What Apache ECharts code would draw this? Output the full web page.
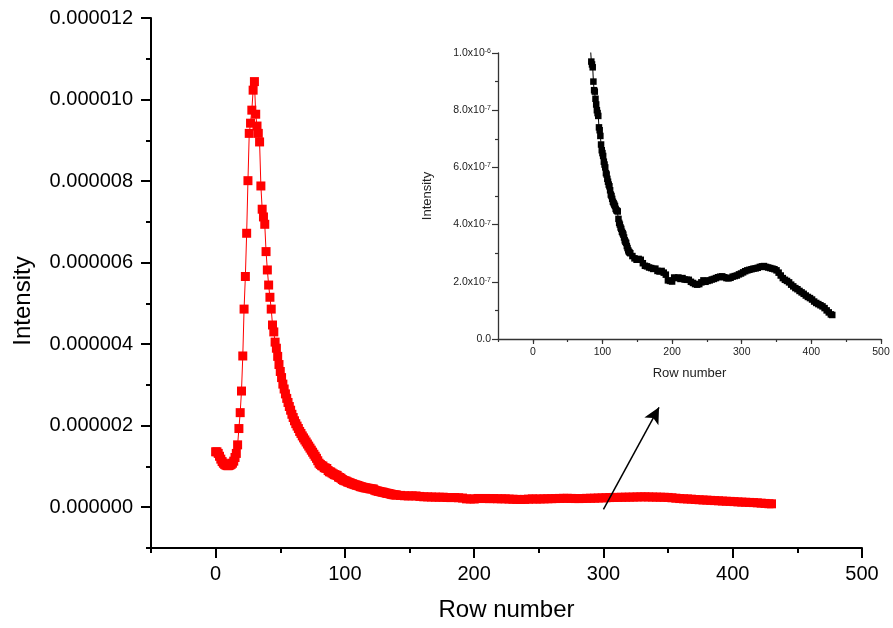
<!DOCTYPE html>
<html>
<head>
<meta charset="utf-8">
<script src="https://cdn.jsdelivr.net/npm/echarts@6/dist/echarts.min.js"></script>
<style>
html,body{margin:0;padding:0;background:#fff;}
#chart{width:893px;height:628px;}
</style>
</head>
<body>
<div id="chart"></div>
<script>
// ---- data (intensity in units of 1e-6) ----
const rowsDense = [
  0,1,2,3,4,5,6,7,8,9,
  10,11,12,13,14,15,16,17,18,19,
  20,21,22,23,24,25,26,27,28,29,
  30,31,32,33,34,35,36,37,38,39,
  40,41,42,43,44,45,46,47,48,49,
  50,51,52,53,54,55,56,57,58,59,
  60,61,62,63,64,65,66,67,68,69,
  70,71,72,73,74,75,76,77,78,79,
  80,81,82,83,84,85,86,87,88,89,
  90,91,92,93,94,95,96,97,98,99,
  100,101,102,103,104,105,106,107,108,109,
  110,111,112,113,114,115,116,117,118,119,
  120,121,122,123,124,125,126,127,128,129,
  130,131,132,133,134,135,136,137,138,139,
  140
];
const intensityDense = [
  1.36,1.36,1.32,1.25,1.18,1.12,1.08,1.05,1.03,1.02,
  1.02,1.03,1.05,1.08,1.13,1.22,1.32,1.53,1.93,2.32,
  2.85,3.71,4.86,5.66,6.72,8.01,9.17,9.42,9.74,10.23,
  10.44,9.64,9.35,9.17,8.96,7.88,7.31,7.12,6.94,6.27,
  5.82,5.45,5.15,4.86,4.47,4.30,4.05,3.90,3.70,3.50,
  3.33,3.18,3.02,2.90,2.78,2.67,2.57,2.47,2.38,2.28,
  2.20,2.12,2.05,1.99,1.93,1.86,1.81,1.75,1.70,1.65,
  1.60,1.55,1.50,1.45,1.40,1.35,1.30,1.25,1.20,1.14,
  1.08,1.05,1.02,1.01,0.97,0.96,0.95,0.90,0.87,0.865,
  0.84,0.82,0.80,0.79,0.78,0.74,0.73,0.71,0.68,0.66,
  0.65,0.64,0.62,0.61,0.60,0.58,0.575,0.56,0.55,0.54,
  0.534,0.52,0.505,0.50,0.49,0.48,0.475,0.47,0.465,0.455,
  0.45,0.448,0.446,0.42,0.406,0.40,0.39,0.385,0.375,0.37,
  0.365,0.355,0.345,0.34,0.336,0.325,0.318,0.31,0.305,0.302,
  0.30
];
const rowsTail = [
  143,146,149,152,155,158,161,164,167,170,
  173,176,179,182,185,188,191,194,197,200,
  203,206,209,212,215,218,221,224,227,230,
  233,236,239,242,245,248,251,254,257,260,
  263,266,269,272,275,278,281,284,287,290,
  293,296,299,302,305,308,311,314,317,320,
  323,326,329,332,335,338,341,344,347,350,
  353,356,359,362,365,368,371,374,377,380,
  383,386,389,392,395,398,401,404,407,410,
  413,416,419,422,425,428,430
];
const intensityTail = [
  0.290,0.282,0.277,0.280,0.277,0.265,0.256,0.254,0.250,0.248,
  0.245,0.246,0.238,0.236,0.238,0.232,0.225,0.205,0.203,0.201,
  0.215,0.213,0.215,0.210,0.213,0.208,0.207,0.207,0.200,0.196,
  0.192,0.190,0.192,0.198,0.205,0.200,0.203,0.205,0.208,0.210,
  0.213,0.216,0.218,0.219,0.216,0.213,0.212,0.214,0.218,0.220,
  0.222,0.226,0.229,0.233,0.237,0.240,0.242,0.244,0.246,0.247,
  0.249,0.252,0.254,0.255,0.252,0.250,0.248,0.246,0.244,0.240,
  0.232,0.222,0.213,0.207,0.203,0.198,0.190,0.184,0.178,0.174,
  0.168,0.163,0.158,0.152,0.147,0.143,0.138,0.131,0.126,0.122,
  0.118,0.114,0.108,0.100,0.093,0.086,0.084
];

// tick labels
const xTickValues = [0, 100, 200, 300, 400, 500];
const mainYTickValues = [0, 2, 4, 6, 8, 10, 12];

// arrow annotation (data coordinates: row, intensity in 1e-6)
const arrowStart = [300, -0.05];
const arrowEnd = [343, 2.45];

// ---- build ----
const allRows = rowsDense.concat(rowsTail);
const allIntensity = intensityDense.concat(intensityTail);
const seriesData = allRows.map((r, i) => [r, allIntensity[i]]);

const FONT = 'Liberation Sans, Arial, Helvetica, sans-serif';

function mainYFmt(v) { return (v * 1e-6).toFixed(6); }
function insetYFmt(v) {
  const t = Math.round(v * 10);
  if (t === 0) return '{m|0.0}';
  if (t === 10) return '{m|1.0x10}{e|-6}';
  return '{m|' + t + '.0x10}{e|-7}';
}

const chart = echarts.init(document.getElementById('chart'), null, {renderer: 'canvas'});
chart.setOption({
  animation: false,
  backgroundColor: '#ffffff',
  textStyle: {fontFamily: FONT},
  grid: [
    {left: 151, top: 18, right: 31, bottom: 80, containLabel: false, outerBoundsMode: 'none'},
    {left: 498, top: 53, right: 12, bottom: 289, containLabel: false, outerBoundsMode: 'none'}
  ],
  xAxis: [
    {
      gridIndex: 0, type: 'value', min: -50, max: 500, position: 'bottom',
      axisLine: {show: true, onZero: false, lineStyle: {color: '#000', width: 2}},
      axisTick: {show: true, customValues: xTickValues, length: 10, lineStyle: {color: '#000', width: 2}},
      axisLabel: {customValues: xTickValues, fontSize: 20, color: '#000', margin: 16, fontFamily: FONT},
      splitLine: {show: false},
      name: 'Row number', nameLocation: 'middle', nameGap: 50,
      nameTextStyle: {fontSize: 24, color: '#000', fontFamily: FONT}
    },
    {
      gridIndex: 0, type: 'value', min: -50, max: 500, interval: 50, position: 'bottom',
      axisLine: {show: false, onZero: false},
      axisTick: {show: true, length: 5, lineStyle: {color: '#000', width: 2}},
      axisLabel: {show: false},
      splitLine: {show: false}
    },
    {
      gridIndex: 1, type: 'value', min: -50, max: 500, position: 'bottom',
      axisLine: {show: true, onZero: false, lineStyle: {color: '#333', width: 1.3}},
      axisTick: {show: true, customValues: xTickValues, length: 5, lineStyle: {color: '#333', width: 1.2}},
      axisLabel: {customValues: xTickValues, fontSize: 10.5, color: '#222', margin: 8, fontFamily: FONT},
      splitLine: {show: false},
      name: 'Row number', nameLocation: 'middle', nameGap: 28,
      nameTextStyle: {fontSize: 13, color: '#222', fontFamily: FONT}
    },
    {
      gridIndex: 1, type: 'value', min: -50, max: 500, interval: 50, position: 'bottom',
      axisLine: {show: false, onZero: false},
      axisTick: {show: true, length: 3, lineStyle: {color: '#333', width: 1.2}},
      axisLabel: {show: false},
      splitLine: {show: false}
    }
  ],
  yAxis: [
    {
      gridIndex: 0, type: 'value', min: -1, max: 12, position: 'left',
      axisLine: {show: true, onZero: false, lineStyle: {color: '#000', width: 2}},
      axisTick: {show: true, customValues: mainYTickValues, length: 10, lineStyle: {color: '#000', width: 2}},
      axisLabel: {customValues: mainYTickValues, formatter: mainYFmt, fontSize: 20, color: '#000', margin: 18, fontFamily: FONT},
      splitLine: {show: false},
      name: 'Intensity', nameLocation: 'middle', nameGap: 116, nameRotate: 90,
      nameTextStyle: {fontSize: 24, color: '#000', fontFamily: FONT, padding: [0, 36, 0, 0]}
    },
    {
      gridIndex: 0, type: 'value', min: -1, max: 12, interval: 1, position: 'left',
      axisLine: {show: false, onZero: false},
      axisTick: {show: true, length: 5, lineStyle: {color: '#000', width: 2}},
      axisLabel: {show: false},
      splitLine: {show: false}
    },
    {
      gridIndex: 1, type: 'value', min: 0, max: 1, interval: 0.2, position: 'left',
      axisLine: {show: true, onZero: false, lineStyle: {color: '#333', width: 1.3}},
      axisTick: {show: true, length: 6, lineStyle: {color: '#333', width: 1.2}},
      minorTick: {show: true, splitNumber: 2, length: 3, lineStyle: {color: '#333', width: 1.2}},
      axisLabel: {
        formatter: insetYFmt, margin: 7, fontFamily: FONT,
        rich: {
          m: {fontSize: 10.5, color: '#222', fontFamily: FONT},
          e: {fontSize: 7, color: '#222', fontFamily: FONT, verticalAlign: 'top'}
        }
      },
      splitLine: {show: false},
      minorSplitLine: {show: false},
      name: 'Intensity', nameLocation: 'middle', nameGap: 64, nameRotate: 90,
      nameTextStyle: {fontSize: 13, color: '#222', fontFamily: FONT}
    }
  ],
  series: [
    {
      type: 'line', xAxisIndex: 0, yAxisIndex: 0,
      data: seriesData,
      symbol: 'rect', symbolSize: 9, showAllSymbol: true,
      itemStyle: {color: '#ff0000'},
      lineStyle: {color: '#ff0000', width: 1},
      emphasis: {disabled: true},
      markLine: {
        silent: true, animation: false,
        symbol: ['none', 'arrow'], symbolSize: [12, 16],
        lineStyle: {color: '#000', width: 1.5, type: 'solid'},
        label: {show: false},
        data: [[{coord: arrowStart}, {coord: arrowEnd}]]
      }
    },
    {
      type: 'line', xAxisIndex: 2, yAxisIndex: 2,
      data: seriesData, clip: true,
      symbol: 'rect', symbolSize: 6.5, showAllSymbol: true,
      itemStyle: {color: '#000'},
      lineStyle: {color: '#000', width: 1},
      emphasis: {disabled: true}
    }
  ]
});
</script>
</body>
</html>
